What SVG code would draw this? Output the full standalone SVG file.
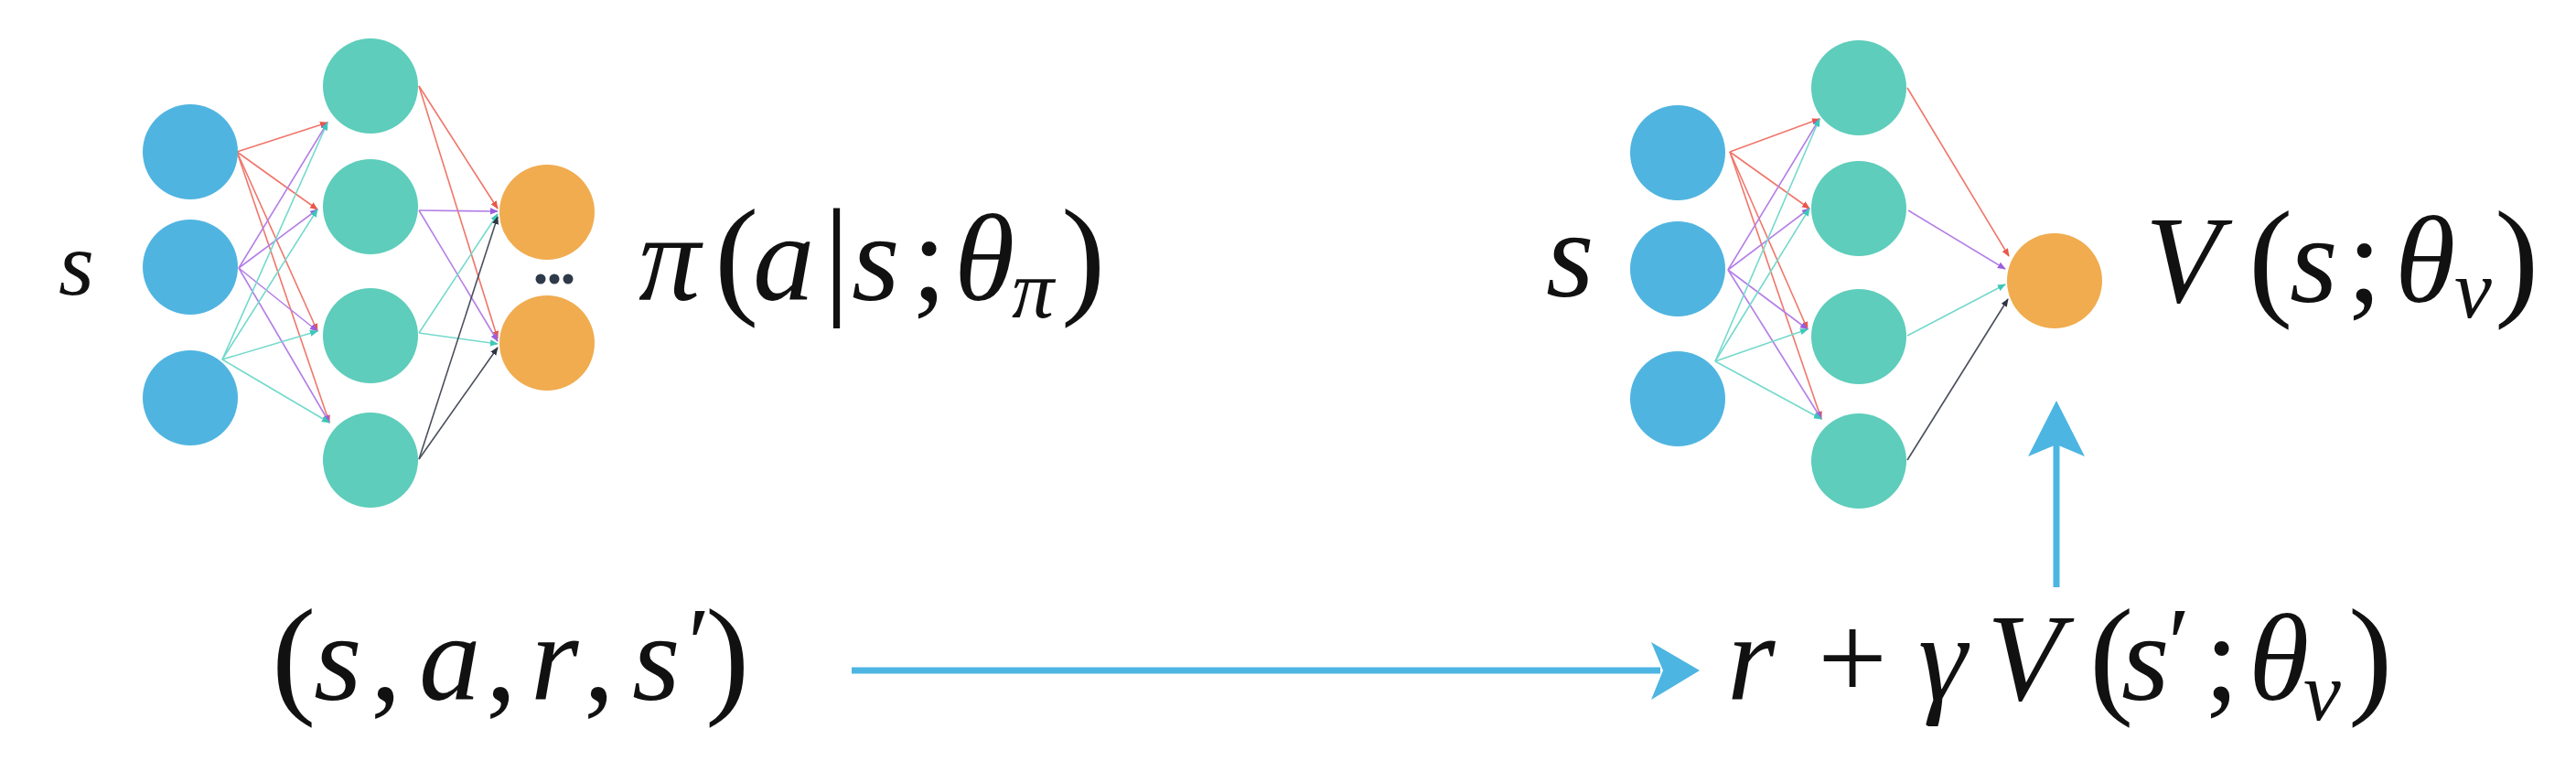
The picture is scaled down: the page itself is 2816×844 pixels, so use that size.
<svg xmlns="http://www.w3.org/2000/svg" width="2816" height="844" viewBox="0 0 2816 844">
<defs>
<marker id="mr" viewBox="0 0 10 10" refX="9" refY="5" markerWidth="9" markerHeight="9" markerUnits="userSpaceOnUse" orient="auto"><path d="M0,1 L10,5 L0,9z" fill="#E8574A"/></marker>
<marker id="mp" viewBox="0 0 10 10" refX="9" refY="5" markerWidth="9" markerHeight="9" markerUnits="userSpaceOnUse" orient="auto"><path d="M0,1 L10,5 L0,9z" fill="#9A5FE0"/></marker>
<marker id="mc" viewBox="0 0 10 10" refX="9" refY="5" markerWidth="9" markerHeight="9" markerUnits="userSpaceOnUse" orient="auto"><path d="M0,1 L10,5 L0,9z" fill="#3CC8B8"/></marker>
<marker id="mg" viewBox="0 0 10 10" refX="9" refY="5" markerWidth="9" markerHeight="9" markerUnits="userSpaceOnUse" orient="auto"><path d="M0,1 L10,5 L0,9z" fill="#2F3442"/></marker>
</defs>
<rect width="2816" height="844" fill="#ffffff"/>

<g id="connectors" fill="none" stroke-width="1.6">
  <g stroke="#F0766A" marker-end="url(#mr)">
    <line x1="259" y1="166" x2="358" y2="134"/>
    <line x1="259" y1="166" x2="347" y2="229"/>
    <line x1="259" y1="166" x2="347" y2="362"/>
    <line x1="259" y1="166" x2="360" y2="462"/>
    <line x1="458" y1="94" x2="544" y2="228"/>
    <line x1="458" y1="94" x2="544" y2="370"/>
    <line x1="1891" y1="166" x2="1989" y2="130"/>
    <line x1="1891" y1="166" x2="1978" y2="228"/>
    <line x1="1891" y1="166" x2="1976" y2="360"/>
    <line x1="1891" y1="166" x2="1991" y2="458"/>
    <line x1="2085" y1="96" x2="2196" y2="280"/>
  </g>
  <g stroke="#B47FE6" marker-end="url(#mp)">
    <line x1="261" y1="293" x2="358" y2="134"/>
    <line x1="261" y1="293" x2="347" y2="229"/>
    <line x1="261" y1="293" x2="347" y2="362"/>
    <line x1="261" y1="293" x2="360" y2="462"/>
    <line x1="458" y1="230" x2="544" y2="231"/>
    <line x1="458" y1="230" x2="544" y2="373"/>
    <line x1="1889" y1="295" x2="1989" y2="130"/>
    <line x1="1889" y1="295" x2="1978" y2="228"/>
    <line x1="1889" y1="295" x2="1976" y2="360"/>
    <line x1="1889" y1="295" x2="1991" y2="458"/>
    <line x1="2086" y1="230" x2="2192" y2="294"/>
  </g>
  <g stroke="#74D9CC" marker-end="url(#mc)">
    <line x1="243" y1="393" x2="358" y2="134"/>
    <line x1="243" y1="393" x2="347" y2="229"/>
    <line x1="243" y1="393" x2="347" y2="362"/>
    <line x1="243" y1="393" x2="360" y2="462"/>
    <line x1="458" y1="364" x2="544" y2="234"/>
    <line x1="458" y1="364" x2="544" y2="376"/>
    <line x1="1875" y1="395" x2="1989" y2="130"/>
    <line x1="1875" y1="395" x2="1978" y2="228"/>
    <line x1="1875" y1="395" x2="1976" y2="360"/>
    <line x1="1875" y1="395" x2="1991" y2="458"/>
    <line x1="2085" y1="367" x2="2192" y2="311"/>
  </g>
  <g stroke="#4A4F5C" marker-end="url(#mg)">
    <line x1="458" y1="502" x2="544" y2="237"/>
    <line x1="458" y1="502" x2="544" y2="380"/>
    <line x1="2085" y1="503" x2="2195" y2="327"/>
  </g>
  <g stroke="#4DB5E2" stroke-width="7">
    <line x1="931" y1="733" x2="1815" y2="733"/>
    <line x1="2248" y1="642" x2="2248" y2="480"/>
  </g>
  <g fill="#4DB5E2" stroke="none">
    <path d="M1858,733 L1805,702 L1818,733 L1805,765 Z"/>
    <path d="M2248,438 L2217,499 L2248,486 L2279,499 Z"/>
  </g>
</g>

<g id="policy-net">
  <g fill="#50B4E0">
    <g id="p-in1"><circle cx="208" cy="166" r="52"/></g>
    <g id="p-in2"><circle cx="208" cy="292" r="52"/></g>
    <g id="p-in3"><circle cx="208" cy="435" r="52"/></g>
  </g>
  <g fill="#5ECDBB">
    <g id="p-h1"><circle cx="405" cy="94" r="52"/></g>
    <g id="p-h2"><circle cx="405" cy="226" r="52"/></g>
    <g id="p-h3"><circle cx="405" cy="367" r="52"/></g>
    <g id="p-h4"><circle cx="405" cy="503" r="52"/></g>
  </g>
  <g fill="#F0AC4F">
    <g id="p-out1"><circle cx="598" cy="232" r="52"/></g>
    <g id="p-out2"><circle cx="598" cy="375" r="52"/></g>
  </g>
  <g id="p-dots" fill="#2E3A4A"><circle cx="591" cy="305" r="5.5"/><circle cx="606" cy="305" r="5.5"/><circle cx="621" cy="305" r="5.5"/></g>
</g>

<g id="value-net">
  <g fill="#50B4E0">
    <g id="v-in1"><circle cx="1834" cy="167" r="52"/></g>
    <g id="v-in2"><circle cx="1834" cy="294" r="52"/></g>
    <g id="v-in3"><circle cx="1834" cy="436" r="52"/></g>
  </g>
  <g fill="#5ECDBB">
    <g id="v-h1"><circle cx="2032" cy="96" r="52"/></g>
    <g id="v-h2"><circle cx="2032" cy="228" r="52"/></g>
    <g id="v-h3"><circle cx="2032" cy="368" r="52"/></g>
    <g id="v-h4"><circle cx="2032" cy="504" r="52"/></g>
  </g>
  <g id="v-out"><circle fill="#F0AC4F" cx="2246" cy="307" r="52"/></g>
</g>

<text id="label-s-left" font-family="Liberation Serif" font-style="italic" font-size="100" fill="#111" x="64" y="322">s</text>
<text id="label-pi" font-family="Liberation Serif" font-style="italic" font-size="135" fill="#111" y="328"><tspan x="698">π</tspan><tspan font-style="normal" font-size="145" x="781">(</tspan><tspan x="823">a</tspan><tspan font-style="normal" font-size="145" x="900">|</tspan><tspan x="931">s</tspan><tspan font-style="normal" x="997">;</tspan><tspan x="1043">θ</tspan><tspan font-size="92" x="1106" y="347">π</tspan><tspan font-style="normal" font-size="145" x="1160" y="328">)</tspan></text>
<text id="label-s-right" font-family="Liberation Serif" font-style="italic" font-size="135" fill="#111" x="1690" y="324">s</text>
<text id="label-V" font-family="Liberation Serif" font-style="italic" font-size="135" fill="#111" y="330"><tspan x="2345">V</tspan><tspan font-style="normal" font-size="145" x="2458">(</tspan><tspan x="2503">s</tspan><tspan font-style="normal" x="2566">;</tspan><tspan x="2618">θ</tspan><tspan font-size="92" x="2683" y="347">v</tspan><tspan font-style="normal" font-size="145" x="2727" y="330">)</tspan></text>
<text id="label-tuple" font-family="Liberation Serif" font-style="italic" font-size="135" fill="#111" y="765"><tspan font-style="normal" font-size="145" x="297">(</tspan><tspan x="343">s</tspan><tspan font-style="normal" x="405">,</tspan><tspan x="458">a</tspan><tspan font-style="normal" x="531">,</tspan><tspan x="580">r</tspan><tspan font-style="normal" x="638">,</tspan><tspan x="691">s</tspan><tspan font-style="normal" font-size="110" x="752" y="740">′</tspan><tspan font-style="normal" font-size="145" x="771" y="765">)</tspan></text>
<text id="label-target" font-family="Liberation Serif" font-style="italic" font-size="135" fill="#111" y="765"><tspan x="1888">r</tspan><tspan font-style="normal" x="1987">+</tspan><tspan x="2097">γ</tspan><tspan x="2172">V</tspan><tspan font-style="normal" font-size="145" x="2284">(</tspan><tspan x="2319">s</tspan><tspan font-style="normal" font-size="110" x="2370" y="740">′</tspan><tspan font-style="normal" x="2410" y="765">;</tspan><tspan x="2458">θ</tspan><tspan font-size="92" x="2518" y="787">v</tspan><tspan font-style="normal" font-size="145" x="2567" y="765">)</tspan></text>
</svg>
